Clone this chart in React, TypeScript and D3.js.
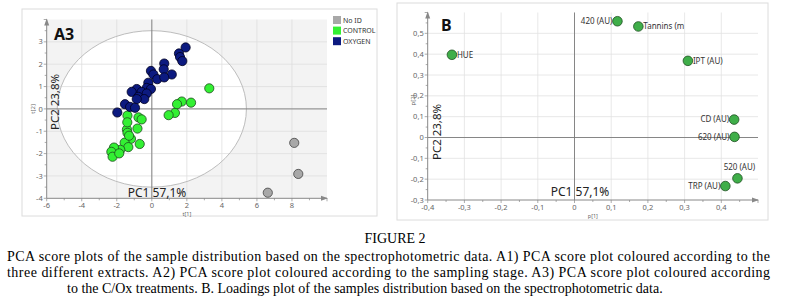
import React from 'react'
import * as d3 from 'd3'

// A3 score plot: [t1, t2]
const oxygen: [number, number][] = [
  [1.93, 2.75], [1.55, 2.48], [1.61, 2.32], [1.74, 2.14], [0.71, 2.03],
  [0.68, 1.77], [-0.05, 1.7], [0.09, 1.54], [1.14, 1.54], [0.31, 1.33],
  [0.71, 1.41], [-0.2, 1.17], [-0.29, 0.94], [-0.05, 0.89], [-0.86, 0.89],
  [-1.15, 0.76], [-0.58, 0.76], [-0.29, 0.69], [-0.77, 0.54], [-0.43, 0.44],
  [-0.86, 0.44], [-1.53, 0.21], [-1.24, 0.09], [-0.96, 0.05], [-1.97, -0.16],
]
const control: [number, number][] = [
  [3.28, 0.92], [1.71, 0.33], [2.24, 0.28], [1.44, 0.21], [1.32, -0.18],
  [0.96, -0.28], [-1.39, -0.3], [-0.76, -0.38], [-0.58, -0.47], [-1.42, -0.92],
  [-1.39, -1.07], [-0.82, -0.88], [-1.19, -1.34], [-1.55, -1.51], [-0.69, -1.57],
  [-1.34, -1.71], [-1.8, -1.83], [-2.16, -1.73], [-2.31, -1.92], [-2.24, -2.14],
  [-1.86, -1.99], [-1.4, -0.6], [-1.3, -1.2],
]
const noId: [number, number][] = [[8.13, -1.52], [8.36, -2.91], [6.62, -3.75]]
const legendNames = ['No ID', 'CONTROL', 'OXYGEN']
const scoreXTicks = [-6, -4, -2, 0, 2, 4, 6, 8]
const scoreYTicks = [3, 2, 1, 0, -1, -2, -3, -4]

// B loadings plot
const loadingNames = ['HUE', '420 (AU)', 'Tannins (m', 'IPT (AU)', 'CD (AU)', '620 (AU)', '520 (AU)', 'TRP (AU)']
const loadingX = [-0.334, 0.117, 0.174, 0.309, 0.435, 0.436, 0.444, 0.411]
const loadingY = [0.397, 0.558, 0.533, 0.368, 0.086, 0.003, -0.196, -0.233]
const labelSide = ['right', 'left', 'right', 'right', 'left', 'left', 'above', 'left']
const loadingXTicks = [-0.4, -0.3, -0.2, -0.1, 0, 0.1, 0.2, 0.3, 0.4]
const loadingYTicks = [0.5, 0.4, 0.3, 0.2, 0.1, 0, -0.1, -0.2, -0.3]

const captionTitle = 'FIGURE 2'
const captionLines = [
  'PCA score plots of the sample distribution based on the spectrophotometric data. A1) PCA score plot coloured according to the',
  'three different extracts. A2) PCA score plot coloured according to the sampling stage. A3) PCA score plot coloured according',
  'to the C/Ox treatments. B. Loadings plot of the samples distribution based on the spectrophotometric data.',
]

const locale = d3.formatLocale({ decimal: ',', thousands: '.', grouping: [3], currency: ['', ''], minus: '-' })
const f1 = locale.format('.1f')
const fInt = locale.format('d')
const fmt = (v: number) => (Math.abs(v) < 1e-9 ? '0' : f1(v))

const sans = '"Noto Sans", "Open Sans", sans-serif'
const tickCol = '#666'

function Arrow({ x, y, dir }: { x: number; y: number; dir: 'up' | 'right' }) {
  const p = dir === 'up'
    ? `${x},${y} ${x - 2.5},${y + 7} ${x + 2.5},${y + 7}`
    : `${x},${y} ${x - 7},${y - 2.5} ${x - 7},${y + 2.5}`
  return <polygon points={p} fill="#888" />
}

function ScorePlot() {
  const x = d3.scaleLinear().domain([-6, 10]).range([46.7, 327])
  const y = d3.scaleLinear().domain([-4, 4]).range([198.3, 19.5])
  const [x0, x1] = x.range()
  const [y0, y1] = y.range()
  const minorX = d3.range(-6, 10.01, 1)
  const minorY = d3.range(-4, 4.01, 0.5)
  const legendColors = ['#a8a8a8', '#33f033', '#0c1a80']
  return (
    <g>
      <rect x={22} y={9} width={355} height={207} fill="#fff" stroke="#dcdcdc" />
      <rect x={x0} y={y1} width={x1 - x0} height={y0 - y1} fill="#f3f3f3" />
      <ellipse cx={x(0)} cy={y(0)} rx={x(5.4) - x(0)} ry={y(0) - y(3.5)} fill="#fff" />
      {scoreXTicks.filter(t => t > -6).map(t => (
        <line key={'gx' + t} x1={x(t)} x2={x(t)} y1={y1} y2={y0} stroke="#dedede" strokeWidth={0.8} />
      ))}
      {scoreYTicks.filter(t => t > -4).map(t => (
        <line key={'gy' + t} x1={x0} x2={x1} y1={y(t)} y2={y(t)} stroke="#dedede" strokeWidth={0.8} />
      ))}
      <ellipse cx={x(0)} cy={y(0)} rx={x(5.4) - x(0)} ry={y(0) - y(3.5)} fill="none" stroke="#b5b5b5" strokeWidth={0.9} />
      <line x1={x(0)} x2={x(0)} y1={y1} y2={y0} stroke="#7a7a7a" strokeWidth={0.9} />
      <line x1={x0} x2={x1} y1={y(0)} y2={y(0)} stroke="#7a7a7a" strokeWidth={0.9} />
      {/* axes */}
      <line x1={x0} x2={x0} y1={y0} y2={y1} stroke="#888" />
      <line x1={x0} x2={x1} y1={y0} y2={y0} stroke="#888" />
      <Arrow x={x0} y={y1 - 1} dir="up" />
      <Arrow x={x1 + 1} y={y0} dir="right" />
      {minorX.map(t => (
        <line key={'mx' + t} x1={x(t)} x2={x(t)} y1={y0} y2={y0 + (t % 2 === 0 ? 3 : 2)} stroke="#888" strokeWidth={0.7} />
      ))}
      {minorY.map(t => (
        <line key={'my' + t} x1={x0} x2={x0 - (Number.isInteger(t) ? 3 : 2)} y1={y(t)} y2={y(t)} stroke="#888" strokeWidth={0.7} />
      ))}
      {scoreXTicks.map(t => (
        <text key={'lx' + t} x={x(t)} y={y0 + 10} fontSize={7.5} fill={tickCol} textAnchor="middle" fontFamily={sans}>{fInt(t)}</text>
      ))}
      {scoreYTicks.map(t => (
        <text key={'ly' + t} x={x0 - 4} y={y(t) + 2.6} fontSize={7.5} fill={tickCol} textAnchor="end" fontFamily={sans}>{fInt(t)}</text>
      ))}
      <text x={(x0 + x1) / 2} y={215.5} fontSize={5.5} fill={tickCol} textAnchor="middle" fontFamily={sans}>t[1]</text>
      <text transform={`translate(35,${(y0 + y1) / 2}) rotate(-90)`} fontSize={6} fill={tickCol} textAnchor="middle" fontFamily={sans}>t[2]</text>
      <text x={54} y={40} fontSize={16} fontWeight="bold" fontFamily={sans} fill="#111">A3</text>
      <text transform="translate(59,102) rotate(-90)" fontSize={11.5} textAnchor="middle" fontFamily={sans} fill="#222">PC2 23,8%</text>
      <text x={157} y={197} fontSize={12} textAnchor="middle" fontFamily={sans} fill="#222">PC1 57,1%</text>
      {/* points */}
      {noId.map((d, i) => (
        <circle key={'n' + i} cx={x(d[0])} cy={y(d[1])} r={4.6} fill="#a8a8a8" stroke="#444" strokeWidth={0.8} />
      ))}
      {control.map((d, i) => (
        <circle key={'c' + i} cx={x(d[0])} cy={y(d[1])} r={4.6} fill="#33f033" stroke="#1d4a1d" strokeWidth={0.8} />
      ))}
      {oxygen.map((d, i) => (
        <circle key={'o' + i} cx={x(d[0])} cy={y(d[1])} r={4.6} fill="#0c1a80" stroke="#000020" strokeWidth={0.8} />
      ))}
      {/* legend */}
      {legendNames.map((n, i) => (
        <g key={n} transform={`translate(333,${16 + i * 10.6})`}>
          <rect width={8} height={8} fill={legendColors[i]} />
          <text x={10} y={6.8} fontSize={7} fill="#333" fontFamily={sans}>{n}</text>
        </g>
      ))}
    </g>
  )
}

function LoadingPlot() {
  const x = d3.scaleLinear().domain([-0.4, 0.5]).range([427.7, 758])
  const y = d3.scaleLinear().domain([-0.3, 0.6]).range([200, 12.5])
  const [x0, x1] = x.range()
  const [y0, y1] = y.range()
  const minorX = d3.range(-0.4, 0.501, 0.05)
  const minorY = d3.range(-0.3, 0.601, 0.05)
  return (
    <g>
      <rect x={397} y={3} width={371} height={217} fill="#fff" stroke="#dcdcdc" />
      {loadingXTicks.filter(t => t > -0.4).map(t => (
        <line key={'gx' + t} x1={x(t)} x2={x(t)} y1={y1} y2={y0} stroke="#e2e2e2" strokeWidth={0.8} />
      ))}
      {loadingYTicks.filter(t => t > -0.3).map(t => (
        <line key={'gy' + t} x1={x0} x2={x1} y1={y(t)} y2={y(t)} stroke="#e2e2e2" strokeWidth={0.8} />
      ))}
      <line x1={x(0)} x2={x(0)} y1={y1} y2={y0} stroke="#7a7a7a" strokeWidth={0.9} />
      <line x1={x0} x2={x1} y1={y(0)} y2={y(0)} stroke="#7a7a7a" strokeWidth={0.9} />
      <line x1={x0} x2={x0} y1={y0} y2={y1} stroke="#888" />
      <line x1={x0} x2={x1} y1={y0} y2={y0} stroke="#888" />
      <Arrow x={x0} y={y1 - 1} dir="up" />
      <Arrow x={x1 + 1} y={y0} dir="right" />
      {minorX.map((t, i) => (
        <line key={'mx' + i} x1={x(t)} x2={x(t)} y1={y0} y2={y0 + (i % 2 === 0 ? 3 : 2)} stroke="#888" strokeWidth={0.7} />
      ))}
      {minorY.map((t, i) => (
        <line key={'my' + i} x1={x0} x2={x0 - (i % 2 === 0 ? 3 : 2)} y1={y(t)} y2={y(t)} stroke="#888" strokeWidth={0.7} />
      ))}
      {loadingXTicks.map(t => (
        <text key={'lx' + t} x={x(t)} y={y0 + 10} fontSize={7.5} fill={tickCol} textAnchor="middle" fontFamily={sans}>{fmt(t)}</text>
      ))}
      {loadingYTicks.map(t => (
        <text key={'ly' + t} x={x0 - 4} y={y(t) + 2.6} fontSize={7.5} fill={tickCol} textAnchor="end" fontFamily={sans}>{fmt(t)}</text>
      ))}
      <text x={(x0 + x1) / 2} y={218} fontSize={5.5} fill={tickCol} textAnchor="middle" fontFamily={sans}>p[1]</text>
      <text transform={`translate(415,100) rotate(-90)`} fontSize={6} fill={tickCol} textAnchor="middle" fontFamily={sans}>p[2]</text>
      <text x={441} y={31} fontSize={16} fontWeight="bold" fontFamily={sans} fill="#111">B</text>
      <text transform="translate(441,132) rotate(-90)" fontSize={11.5} textAnchor="middle" fontFamily={sans} fill="#222">PC2 23,8%</text>
      <text x={580} y={196} fontSize={12} textAnchor="middle" fontFamily={sans} fill="#222">PC1 57,1%</text>
      {loadingNames.map((n, i) => {
        const cx = x(loadingX[i])
        const cy = y(loadingY[i])
        const side = labelSide[i]
        const tx = side === 'right' ? cx + 5 : side === 'left' ? cx - 5 : cx + 2
        const ty = side === 'above' ? cy - 8 : cy + 2.8
        const anchor = side === 'right' ? 'start' : side === 'left' ? 'end' : 'middle'
        return (
          <g key={n}>
            <circle cx={cx} cy={cy} r={4.8} fill="#3fae49" stroke="#1f4f22" strokeWidth={0.8} />
            <text x={tx} y={ty} fontSize={8} fill="#333" textAnchor={anchor} fontFamily={sans}>{n}</text>
          </g>
        )
      })}
    </g>
  )
}

export default function App() {
  const serif = '"Liberation Serif", "Times New Roman", serif'
  return (
    <svg width={790} height={306} style={{ position: 'absolute', left: 0, top: 0, background: '#fff' }}>
      <ScorePlot />
      <LoadingPlot />
      <text x={395} y={243} fontSize={14} textAnchor="middle" fontFamily={serif} fill="#000">{captionTitle}</text>
      {captionLines.map((l, i) => (
        <text key={i} x={i === 2 ? 67 : 7} y={261 + i * 16.2} fontSize={14} fontFamily={serif} fill="#000"
          textLength={i === 2 ? undefined : 763} lengthAdjust="spacing">{l}</text>
      ))}
    </svg>
  )
}
